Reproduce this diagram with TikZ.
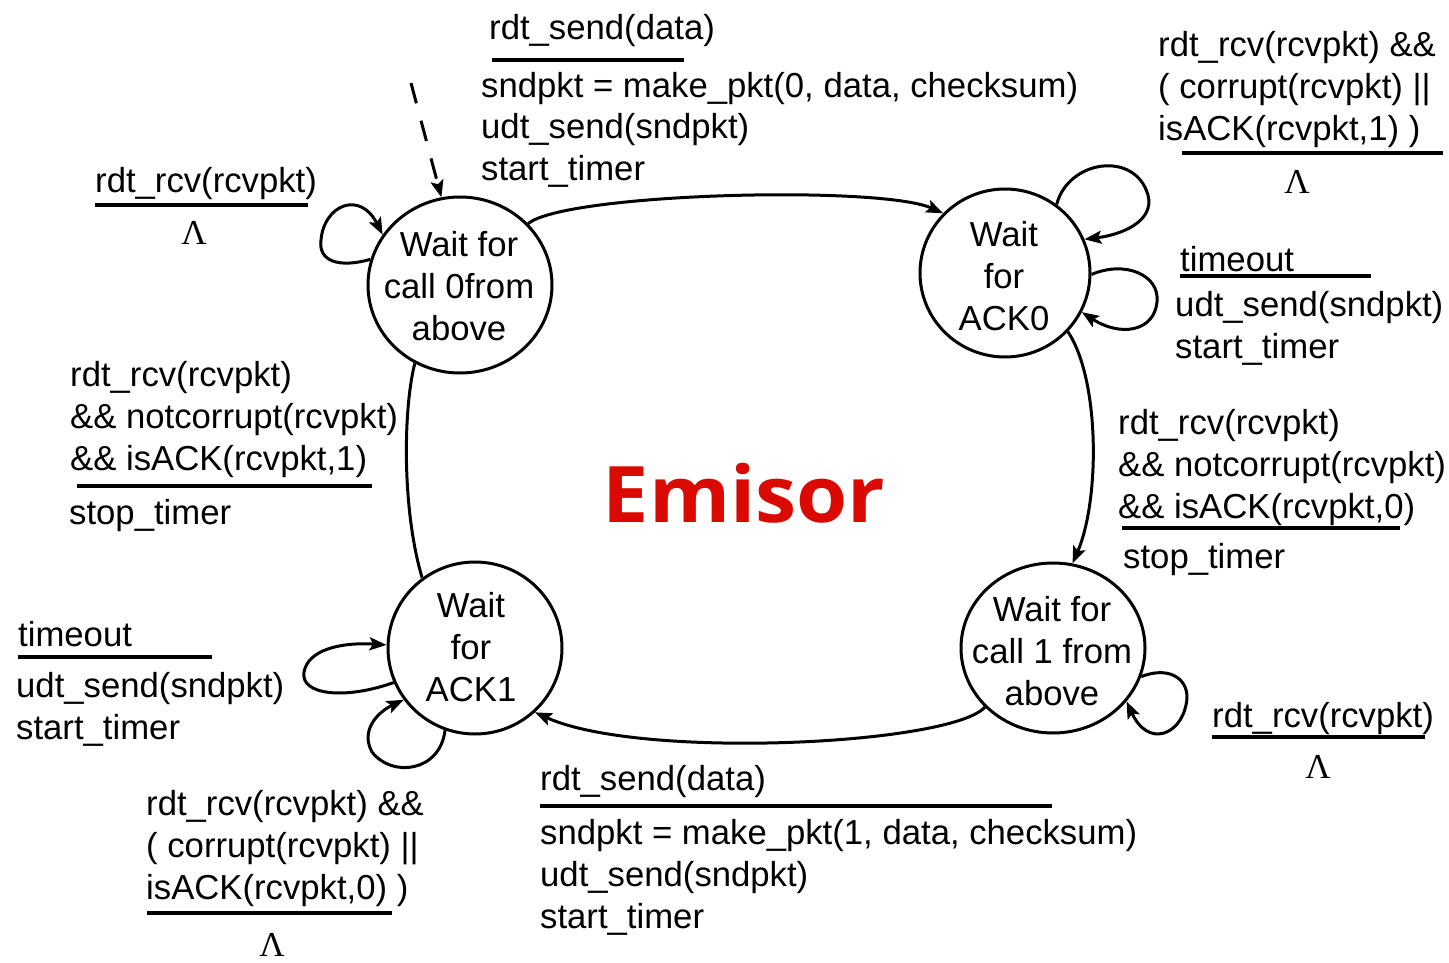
\documentclass[tikz,border=0pt]{standalone}
\usepackage{fontspec}
\setmainfont{Liberation Sans}
\newfontfamily\lamfont{Liberation Serif}
\newfontfamily\emfont{Open Sans}[FakeStretch=1.06]
\usetikzlibrary{shapes.geometric,arrows.meta}
\definecolor{emred}{RGB}{218,10,2}
\begin{document}
\begin{tikzpicture}[x=1pt,y=-1pt,
  fsmstate/.style={ellipse,draw,line width=3pt,inner sep=0pt},
  statetext/.style={anchor=base,align=center,inner sep=0pt,font=\fontsize{34.7}{42}\selectfont},
  lbl/.style={anchor=base west,align=left,inner sep=0pt,font=\fontsize{34.7}{42}\selectfont},
  rulebar/.style={line width=3.8pt},
  edge/.style={line width=3pt},
  tip/.style={-{Stealth[length=17pt,width=13pt,inset=3.5pt]}},
  lam/.style={inner sep=0pt,font=\lamfont\fontsize{35}{35}\selectfont}
]
\useasboundingbox (0,0) rectangle (1449,963);

% states (multi-line nodes are placed by the baseline of their last line)
\node[fsmstate,minimum width=184pt,minimum height=176pt] (s0) at (460,285) {};
\node[fsmstate,minimum width=170pt,minimum height=168pt] (s1) at (1005,273) {};
\node[fsmstate,minimum width=174pt,minimum height=172pt] (s2) at (475,648) {};
\node[fsmstate,minimum width=184pt,minimum height=170pt] (s3) at (1053,648) {};

\node[statetext] (s0t) at (459,340) {Wait for\\call 0from\\above};
\node[statetext] (s1t) at (1004,330) {Wait\\for\\ACK0};
\node[statetext] (s2t) at (471,701) {Wait\\for\\ACK1};
\node[statetext] (s3t) at (1052,705) {Wait for\\call 1 from\\above};

% title
\node[inner sep=0pt,text=emred,font=\emfont\bfseries\fontsize{78}{78}\selectfont] (title) at (744,493) {Emisor};

% initial transition
\coordinate (init) at (411,83);
\draw[edge,tip,dash pattern=on 21pt off 18pt] (init) -- (s0.102);

% transitions between states
\draw[edge,tip] (s0.42) .. controls (565,193) and (880,185) .. (s1.136);
\draw[edge,tip] (s1.317) .. controls (1100,380) and (1100,500) .. (s3.77);
\draw[edge,tip] (s3.221) .. controls (950,745) and (640,760) .. (s2.313);
\draw[edge] (s2.127) .. controls (402,510) and (403,410) .. (s0.240);

% self loops
\draw[edge,tip] (s0.164) .. controls (340,268) and (318,262) .. (321,240)
  .. controls (324,205) and (360,190) .. (s0.147);
\draw[edge,tip] (s1.53) .. controls (1068,160) and (1135,150) .. (1148,195)
  .. controls (1155,222) and (1120,235) .. (s1.23);
\draw[edge,tip] (s1.359) .. controls (1125,260) and (1160,275) .. (1157,302)
  .. controls (1154,332) and (1120,337) .. (s1.333);
\draw[edge,tip] (s2.203) .. controls (345,700) and (300,695) .. (304,672)
  .. controls (308,650) and (340,642) .. (s2.178);
\draw[edge,tip] (s2.250) .. controls (440,772) and (392,778) .. (372,752)
  .. controls (360,730) and (378,712) .. (s2.216);
\draw[edge,tip] (s3.342) .. controls (1170,665) and (1192,680) .. (1186,705)
  .. controls (1180,735) and (1148,748) .. (s3.324);

% transition labels
\node[lbl] (l0e) at (489,40) {rdt\_send(data)};
\draw[rulebar] (492,60) -- (684,60);
\node[lbl] (l0a) at (481,181) {sndpkt = make\_pkt(0, data, checksum)\\udt\_send(sndpkt)\\start\_timer};

\node[lbl] (l1e) at (95,193) {rdt\_rcv(rcvpkt)};
\draw[rulebar] (95,205) -- (308,205);
\node[lam] (lam1) at (194,233) {Λ};

\node[lbl] (l2e) at (1158,141) {rdt\_rcv(rcvpkt) \&\&\\( corrupt(rcvpkt) ||\\isACK(rcvpkt,1) )};
\draw[rulebar] (1182,153) -- (1443,153);
\node[lam] (lam2) at (1297,182) {Λ};

\node[lbl] (l3e) at (1180,271) {timeout};
\draw[rulebar] (1180,276) -- (1371,276);
\node[lbl] (l3a) at (1175,358) {udt\_send(sndpkt)\\start\_timer};

\node[lbl] (l4e) at (1118,518) {rdt\_rcv(rcvpkt)\\\&\& notcorrupt(rcvpkt)\\\&\& isACK(rcvpkt,0)};
\draw[rulebar] (1122,528) -- (1400,528);
\node[lbl] (l4a) at (1123,568) {stop\_timer};

\node[lbl] (l5e) at (70,470) {rdt\_rcv(rcvpkt)\\\&\& notcorrupt(rcvpkt)\\\&\& isACK(rcvpkt,1)};
\draw[rulebar] (77,486) -- (372,486);
\node[lbl] (l5a) at (69,524) {stop\_timer};

\node[lbl] (l6e) at (18,646) {timeout};
\draw[rulebar] (18,657) -- (212,657);
\node[lbl] (l6a) at (16,739) {udt\_send(sndpkt)\\start\_timer};

\node[lbl] (l7e) at (146,899) {rdt\_rcv(rcvpkt) \&\&\\( corrupt(rcvpkt) ||\\isACK(rcvpkt,0) )};
\draw[rulebar] (147,913) -- (392,913);
\node[lam] (lam3) at (272,945) {Λ};

\node[lbl] (l8e) at (540,790) {rdt\_send(data)};
\draw[rulebar] (540,806) -- (1052,806);
\node[lbl] (l8a) at (540,928) {sndpkt = make\_pkt(1, data, checksum)\\udt\_send(sndpkt)\\start\_timer};

\node[lbl] (l9e) at (1212,727) {rdt\_rcv(rcvpkt)};
\draw[rulebar] (1212,737) -- (1425,737);
\node[lam] (lam4) at (1318,767) {Λ};
\end{tikzpicture}
\end{document}
